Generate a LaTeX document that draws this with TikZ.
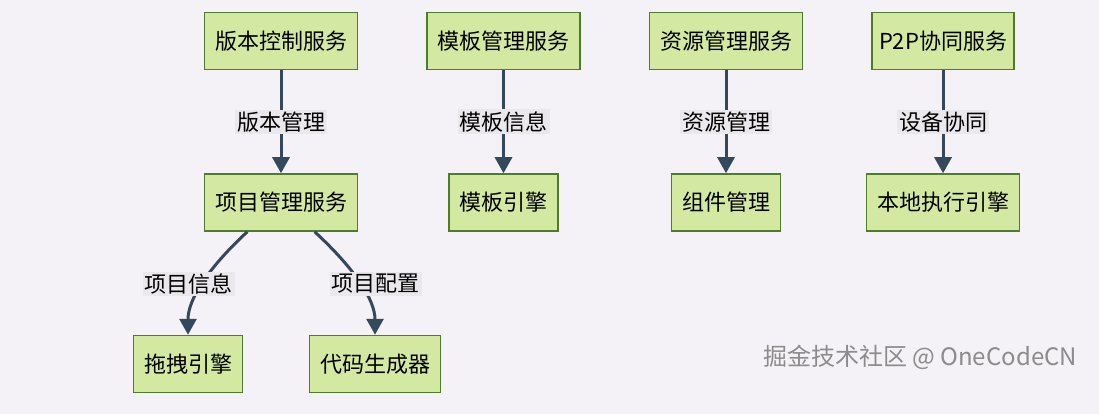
\documentclass[tikz,border=0pt]{standalone}
\usepackage{fontspec}
\setmainfont{Noto Sans CJK SC}
\usetikzlibrary{positioning, arrows.meta, calc}
\definecolor{bgpaper}{HTML}{F4F1F7}
\definecolor{boxfill}{HTML}{D3E8A1}
\definecolor{boxline}{HTML}{4B7D2C}
\definecolor{edgeslate}{HTML}{34495E}
\definecolor{labelgray}{HTML}{EAE8EC}

\begin{document}
\begin{tikzpicture}[
		svc/.style = {draw = boxline, fill = boxfill, line width = 1.5pt, minimum height = 57pt, inner xsep = 10.5pt, font = \fontsize{22}{26}\selectfont},
		flow/.style = {draw = edgeslate, line width = 3pt, -{Triangle[length = 16pt, width = 17pt]}},
		flowlab/.style = {fill = labelgray, inner sep = 2pt, font = \fontsize{22}{26}\selectfont},
	]
		\useasboundingbox[fill = bgpaper] (0pt, 0pt) rectangle (1099pt, -414pt);
		% top row of services
		\node[svc] (vc) at (281pt, -41pt) {版本控制服务};
		\node[svc, right = 68pt of vc] (tm) {模板管理服务};
		\node[svc, right = 68pt of tm] (rm) {资源管理服务};
		\node[svc, right = 68pt of rm, inner xsep = 7pt] (p2p) {P2P协同服务};
		% second row
		\node[svc, below = 103pt of vc] (pm) {项目管理服务};
		\node[svc, below = 103pt of tm] (te) {模板引擎};
		\node[svc, below = 103pt of rm] (cm) {组件管理};
		\node[svc, below = 103pt of p2p] (le) {本地执行引擎};
		% third row
		\node[svc, below = 103pt of pm, xshift = -93pt] (dd) {拖拽引擎};
		\node[svc, below = 103pt of pm, xshift = 94pt] (cg) {代码生成器};
		% edges
		\draw[flow] (vc) -- node[flowlab] {版本管理} (pm);
		\draw[flow] (tm) -- node[flowlab] {模板信息} (te);
		\draw[flow] (rm) -- node[flowlab] {资源管理} (cm);
		\draw[flow] (p2p) -- node[flowlab] {设备协同} (le);
		\draw[flow] (pm.221) .. controls +(-40pt, -37pt) and +(0pt, 35pt) .. node[flowlab, xshift = -14pt] {项目信息} (dd.north);
		\draw[flow] (pm.319) .. controls +(40pt, -37pt) and +(0pt, 35pt) .. node[flowlab, xshift = 16pt] {项目配置} (cg.north);
		\node[text = black!45, font = \fontsize{24}{28}\selectfont] (wm) at (920pt, -357pt) {掘金技术社区 @ OneCodeCN};
	\end{tikzpicture}
\end{document}
